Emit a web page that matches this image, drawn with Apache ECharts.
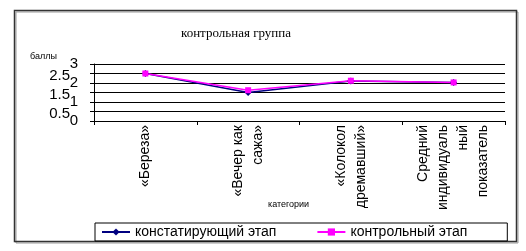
<!DOCTYPE html>
<html><head><meta charset="utf-8">
<script src="https://cdn.jsdelivr.net/npm/echarts@6/dist/echarts.min.js"></script>
<style>html,body{margin:0;padding:0;background:#fff}#c{width:526px;height:251px}</style>
</head><body><div id="c"></div>
<script>
const categories = ['«Береза»', '«Вечер как\nсажа»', '«Колокол\nдремавший»', 'Средний\nиндивидуаль\nный\nпоказатель'];
const stage1 = [2.5, 1.5, 2.1, 2.03];
const stage2 = [2.5, 1.62, 2.12, 2.03];
const seriesNames = ['констатирующий этап', 'контрольный этап'];
const yTicks = [0, 0.5, 1, 1.5, 2, 2.5, 3];

const sans = '"Liberation Sans", Arial, sans-serif';
const isHalf = v => Math.round(v * 2) % 2 === 1;
const chart = echarts.init(document.getElementById('c'), null, {renderer: 'canvas'});
chart.setOption({
  animation: false,
  backgroundColor: '#fff',
  title: {
    text: 'контрольная группа', left: 231, top: 22, textAlign: 'center',
    textStyle: {fontFamily: '"Liberation Serif", "Times New Roman", serif', fontSize: 13, fontWeight: 'normal', color: '#000'}
  },
  graphic: [
    {type: 'rect', shape: {x: 16, y: 12, width: 502, height: 231}, style: {fill: 'none', stroke: '#9a9a9a', lineWidth: 1}, z: 0},
    {type: 'rect', shape: {x: 14.5, y: 10.5, width: 502, height: 231}, style: {fill: 'none', stroke: '#333', lineWidth: 1.5}, z: 0},
    {type: 'text', left: 30, top: 52, style: {text: 'баллы', font: '9px "Liberation Sans", Arial, sans-serif', fill: '#000'}},
    {type: 'text', left: 268, top: 200, style: {text: 'категории', font: '9px "Liberation Sans", Arial, sans-serif', fill: '#000'}}
  ],
  legend: {
    left: 95, top: 223, orient: 'horizontal',
    padding: [2, 40, 2, 6], itemGap: 40, itemWidth: 28, itemHeight: 9,
    borderColor: '#000', borderWidth: 1,
    textStyle: {fontFamily: sans, fontSize: 14, color: '#000'},
    data: seriesNames
  },
  grid: {left: 94, right: 21, top: 64, bottom: 130, containLabel: false},
  xAxis: {
    type: 'category', data: categories, boundaryGap: true,
    axisLine: {lineStyle: {color: '#000', width: 1}},
    axisTick: {show: true, length: 4, inside: false, lineStyle: {color: '#000'}},
    axisLabel: {rotate: 90, margin: 4, interval: 0, fontFamily: sans, fontSize: 14, color: '#000', lineHeight: 20}
  },
  yAxis: [
    {
      type: 'value', min: yTicks[0], max: yTicks[yTicks.length - 1], interval: 0.5,
      axisLine: {show: true, lineStyle: {color: '#000', width: 1}},
      axisTick: {show: true, length: 4, lineStyle: {color: '#000'}},
      splitLine: {show: true, lineStyle: {color: '#000', width: 1}},
      axisLabel: {
        margin: 16, fontFamily: sans, fontSize: 15, color: '#000',
        showMinLabel: true, showMaxLabel: true, hideOverlap: false,
        formatter: v => isHalf(v) ? '' : String(v)
      }
    },
    {
      type: 'value', position: 'left', min: yTicks[0], max: yTicks[yTicks.length - 1], interval: 0.5,
      axisLine: {show: false}, axisTick: {show: false}, splitLine: {show: false},
      axisLabel: {
        margin: 24, fontFamily: sans, fontSize: 15, color: '#000',
        showMinLabel: true, showMaxLabel: true, hideOverlap: false,
        formatter: v => isHalf(v) ? '{h|' + String(v) + '}' : '',
        rich: {h: {fontFamily: sans, fontSize: 15, color: '#000', padding: [5, 0, 0, 0]}}
      }
    }
  ],
  series: [
    {name: seriesNames[0], type: 'line', data: stage1, symbol: 'diamond', symbolSize: 7,
     lineStyle: {color: '#000080', width: 1.5}, itemStyle: {color: '#000080'}},
    {name: seriesNames[1], type: 'line', data: stage2, symbol: 'rect', symbolSize: 6,
     lineStyle: {color: '#ff00ff', width: 1.5}, itemStyle: {color: '#ff00ff'}}
  ]
});
</script></body></html>
